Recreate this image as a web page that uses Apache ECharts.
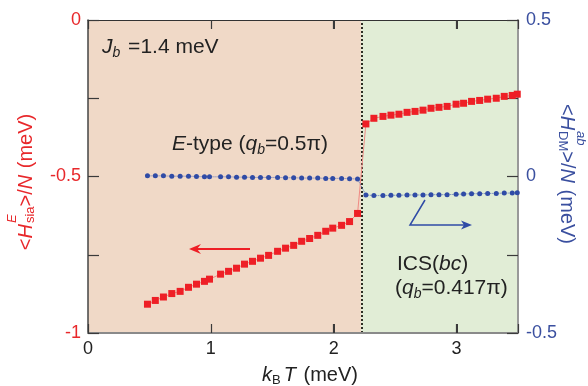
<!DOCTYPE html>
<html>
<head>
<meta charset="utf-8">
<script src="https://cdn.jsdelivr.net/npm/echarts@6/dist/echarts.min.js"></script>
<style>
  html, body { margin: 0; padding: 0; background: #ffffff; }
  #chart { width: 588px; height: 386px; }
</style>
</head>
<body>
<div id="chart"></div>
<script>
// Temperatures k_B T (meV) in the E-type phase and in the ICS(bc) phase
const kT_E = [0.484, 0.548, 0.614, 0.682, 0.750, 0.818, 0.883, 0.948, 0.989, 1.079, 1.144, 1.209, 1.274, 1.339,
              1.404, 1.470, 1.543, 1.608, 1.674, 1.739, 1.804, 1.870, 1.935, 1.992, 2.064, 2.129, 2.194];
const kT_ICS = [2.262, 2.327, 2.401, 2.466, 2.531, 2.597, 2.662, 2.727, 2.792, 2.857, 2.923, 2.996, 3.057, 3.122,
                3.188, 3.253, 3.323, 3.388, 3.453, 3.494];

// <H_sia^E>/N (meV), left axis
const hsia_E = [-0.908, -0.896, -0.885, -0.874, -0.867, -0.854, -0.844, -0.835, -0.828, -0.812, -0.803, -0.793,
                -0.780, -0.771, -0.761, -0.752, -0.739, -0.729, -0.720, -0.707, -0.698, -0.688, -0.675, -0.665,
                -0.656, -0.644, -0.618];
const hsia_ICS = [-0.332, -0.314, -0.308, -0.304, -0.301, -0.295, -0.292, -0.288, -0.282, -0.279, -0.276, -0.269,
                  -0.266, -0.260, -0.257, -0.253, -0.250, -0.244, -0.241, -0.237];

// <H_DM^ab>/N (meV), right axis
const hdm_E = [0.002, 0.002, 0.002, 0.001, 0.001, 0.001, 0.000, -0.001, -0.001, -0.001, -0.001, -0.002, -0.002,
               -0.003, -0.003, -0.003, -0.003, -0.004, -0.004, -0.005, -0.005, -0.005, -0.006, -0.006, -0.006,
               -0.007, -0.008];
const hdm_ICS = [-0.059, -0.061, -0.061, -0.060, -0.060, -0.059, -0.059, -0.059, -0.058, -0.058, -0.058, -0.057,
                 -0.056, -0.055, -0.055, -0.054, -0.054, -0.053, -0.053, -0.052];

// Phase boundary and axis ranges
const transitionT = 2.225;
const xRange = [0, 3.5];
const leftRange = [-1, 0];
const rightRange = [-0.5, 0.5];

// Tick labels
const xTickLabels = [0, 1, 2, 3];
const leftTickLabels = [0, -0.5, -1];
const rightTickLabels = [0.5, 0, -0.5];

const FONT_FAMILY = '"Liberation Sans", Arial, Helvetica, sans-serif';
const RED = '#ee1f26';
const RED_TEXT = '#e8282b';
const BLUE = '#2f4ba6';
const BLUE_TEXT = '#3a4f9f';
const TICK = { color: '#3a3a3a', width: 1.2 };
const TOP_Z = 100;

const zip = (xs, ys) => xs.map((x, i) => [x, ys[i]]);
const sameNum = (a, b) => Math.abs(a - b) < 1e-9;
const pickLabel = list => v => (list.some(t => sameNum(t, v)) ? String(list.find(t => sameNum(t, v))) : '');

// Lays out a line of mixed-style text (italics, sub/superscripts) as a graphic group.
const measureCtx = document.createElement('canvas').getContext('2d');
function fontOf(size, it) { return (it ? 'italic ' : '') + size + 'px ' + FONT_FAMILY; }
function widthOf(t, size, it) { measureCtx.font = fontOf(size, it); return measureCtx.measureText(t).width; }
function textRun(segs, o) {
  const kids = [];
  let cx = 0;
  const put = (s, x) => {
    kids.push({
      type: 'text', x: x, y: (s.dy || 0) - 0.31 * s.size, silent: true, z: TOP_Z,
      style: {
        text: s.t, font: fontOf(s.size, s.it), fill: o.fill,
        align: 'left', verticalAlign: 'middle', textAlign: 'left', textVerticalAlign: 'middle'
      }
    });
    return widthOf(s.t, s.size, s.it);
  };
  segs.forEach(s => {
    if (s.stack) {
      let w = 0;
      s.stack.forEach(p => { w = Math.max(w, put(p, cx)); });
      cx += w + (s.gap || 0);
    } else {
      cx += put(s, cx) + (s.gap || 0);
    }
  });
  const shift = o.align === 'center' ? -cx / 2 : (o.align === 'right' ? -cx : 0);
  kids.forEach(k => { k.x += shift; });
  return { type: 'group', x: o.x, y: o.y, rotation: o.rotation || 0, silent: true, z: TOP_Z, children: kids };
}

const chart = echarts.init(document.getElementById('chart'), null, { renderer: 'canvas' });

const option = {
  animation: false,
  backgroundColor: '#ffffff',
  textStyle: { fontFamily: FONT_FAMILY },
  grid: { left: 88, right: 70, top: 20, bottom: 53, containLabel: false },
  xAxis: [
    {
      type: 'value', position: 'bottom', min: xRange[0], max: xRange[1], interval: 1, z: 20,
      axisLine: { show: true, onZero: false, lineStyle: { color: '#8a8a8a', width: 2 } },
      axisTick: { show: true, inside: true, length: 9, lineStyle: TICK },
      axisLabel: { color: '#222', fontSize: 18, margin: 7, fontFamily: FONT_FAMILY, formatter: pickLabel(xTickLabels) },
      splitLine: { show: false }
    },
    {
      type: 'value', position: 'top', min: xRange[0], max: xRange[1], interval: 1, z: 20,
      axisLine: { show: true, onZero: false, lineStyle: { color: '#333', width: 1 } },
      axisTick: { show: true, inside: true, length: 9, lineStyle: TICK },
      axisLabel: { show: false },
      splitLine: { show: false }
    }
  ],
  yAxis: [
    {
      type: 'value', position: 'left', min: leftRange[0], max: leftRange[1], interval: 0.25, z: 20,
      axisLine: { show: true, onZero: false, lineStyle: { color: '#444', width: 1.5 } },
      axisTick: { show: true, inside: true, length: 11, lineStyle: TICK },
      axisLabel: { color: RED_TEXT, fontSize: 18, margin: 7, fontFamily: FONT_FAMILY, formatter: pickLabel(leftTickLabels) },
      splitLine: { show: false }
    },
    {
      type: 'value', position: 'right', min: rightRange[0], max: rightRange[1], interval: 0.25, z: 20,
      axisLine: { show: true, onZero: false, lineStyle: { color: '#999', width: 2 } },
      axisTick: { show: true, inside: true, length: 11, lineStyle: TICK },
      axisLabel: { color: BLUE_TEXT, fontSize: 18, margin: 8, fontFamily: FONT_FAMILY, formatter: pickLabel(rightTickLabels) },
      splitLine: { show: false }
    }
  ],
  series: [
    {
      // phase backgrounds and the transition line
      type: 'line', name: 'phases', data: [], xAxisIndex: 0, yAxisIndex: 0, z: 1, silent: true,
      markArea: {
        silent: true,
        data: [
          [{ xAxis: xRange[0], itemStyle: { color: '#f0d9c7' } }, { xAxis: transitionT }],
          [{ xAxis: transitionT, itemStyle: { color: '#e1edd6' } }, { xAxis: xRange[1] }]
        ]
      },
      markLine: {
        silent: true, symbol: 'none', label: { show: false },
        lineStyle: { color: '#2e2e24', width: 2, type: [2, 2] },
        data: [{ xAxis: transitionT }]
      }
    },
    {
      type: 'line', name: 'Hsia', xAxisIndex: 0, yAxisIndex: 0, z: 30,
      data: zip(kT_E.concat(kT_ICS), hsia_E.concat(hsia_ICS)),
      symbol: 'rect', symbolSize: 7,
      itemStyle: { color: RED },
      lineStyle: { color: '#f08a84', width: 1 }
    },
    {
      type: 'line', name: 'HDM', xAxisIndex: 0, yAxisIndex: 1, z: 30,
      data: zip(kT_E.concat(kT_ICS), hdm_E.concat(hdm_ICS)),
      symbol: 'circle', symbolSize: 5,
      itemStyle: { color: BLUE },
      lineStyle: { color: '#5a70b8', width: 1, type: 'dotted' }
    }
  ]
};

chart.setOption(option);

// Titles, annotations and arrows
const decorations = [
  // left axis title: <H_sia^E>/N (meV)
  textRun([
    { t: '<', size: 20 },
    { t: 'H', size: 20, it: true, gap: 1 },
    { stack: [{ t: 'E', size: 13, it: true, dy: -17 }, { t: 'sia', size: 13, dy: 1 }] },
    { t: '>', size: 20 },
    { t: '/', size: 20 },
    { t: 'N', size: 20, it: true, gap: 1 },
    { t: ' (meV)', size: 20 }
  ], { x: 33, y: 182, rotation: Math.PI / 2, align: 'center', fill: RED_TEXT }),
  // right axis title: <H_DM^ab>/N (meV)
  textRun([
    { t: '<', size: 20 },
    { t: 'H', size: 20, it: true, gap: 1 },
    { stack: [{ t: 'ab', size: 13, it: true, dy: -17 }, { t: 'DM', size: 13, dy: 1 }] },
    { t: '>', size: 20 },
    { t: '/', size: 20 },
    { t: 'N', size: 20, it: true, gap: 1 },
    { t: ' (meV)', size: 20 }
  ], { x: 560, y: 174, rotation: -Math.PI / 2, align: 'center', fill: BLUE_TEXT }),
  // x axis title: k_B T (meV)
  textRun([
    { t: 'k', size: 20, it: true },
    { t: 'B', size: 13, dy: 2, gap: 3 },
    { t: 'T', size: 20, it: true, gap: 2 },
    { t: ' (meV)', size: 20 }
  ], { x: 310, y: 382, align: 'center', fill: '#222' }),
  textRun([
    { t: 'J', size: 21, it: true },
    { t: 'b', size: 14, it: true, dy: 3, gap: 2 },
    { t: ' =1.4 meV', size: 21 }
  ], { x: 102, y: 54, fill: '#222' }),
  textRun([
    { t: 'E', size: 21, it: true },
    { t: '-type (', size: 21 },
    { t: 'q', size: 21, it: true },
    { t: 'b', size: 14, it: true, dy: 3 },
    { t: '=0.5\u03c0)', size: 21 }
  ], { x: 172, y: 151, fill: '#222' }),
  textRun([
    { t: 'ICS(', size: 21 },
    { t: 'bc', size: 21, it: true },
    { t: ')', size: 21 }
  ], { x: 397, y: 271, fill: '#222' }),
  textRun([
    { t: '(', size: 21 },
    { t: 'q', size: 21, it: true },
    { t: 'b', size: 14, it: true, dy: 3 },
    { t: '=0.417\u03c0)', size: 21 }
  ], { x: 395, y: 295, fill: '#222' }),
  // red arrow pointing to the left axis
  { type: 'line', silent: true, z: TOP_Z, shape: { x1: 250, y1: 249, x2: 196, y2: 249 }, style: { stroke: RED, lineWidth: 2 } },
  { type: 'polygon', silent: true, z: TOP_Z, shape: { points: [[189, 249], [201, 244], [197, 249], [201, 254]] }, style: { fill: RED } },
  // blue arrow pointing to the right axis
  { type: 'polyline', silent: true, z: TOP_Z, shape: { points: [[425, 200], [410, 225], [465, 225]] }, style: { stroke: BLUE, lineWidth: 1.5, fill: null } },
  { type: 'polygon', silent: true, z: TOP_Z, shape: { points: [[472, 225], [461, 220.5], [464, 225], [461, 229.5]] }, style: { fill: BLUE } }
];

// Inward ticks along the top and bottom frame, placed through the x scale
const yTop = chart.convertToPixel({ yAxisIndex: 0 }, leftRange[1]);
const yBottom = chart.convertToPixel({ yAxisIndex: 0 }, leftRange[0]);
xTickLabels.filter(v => v > xRange[0] && v < xRange[1]).forEach(v => {
  const px = Math.round(chart.convertToPixel({ xAxisIndex: 0 }, v)) + 0.5;
  decorations.push({ type: 'line', silent: true, z: TOP_Z, shape: { x1: px, y1: yTop, x2: px, y2: yTop + 9 }, style: { stroke: '#3a3a3a', lineWidth: 1 } });
  decorations.push({ type: 'line', silent: true, z: TOP_Z, shape: { x1: px, y1: yBottom, x2: px, y2: yBottom - 9 }, style: { stroke: '#3a3a3a', lineWidth: 1 } });
});

chart.setOption({ graphic: decorations });
</script>
</body>
</html>
